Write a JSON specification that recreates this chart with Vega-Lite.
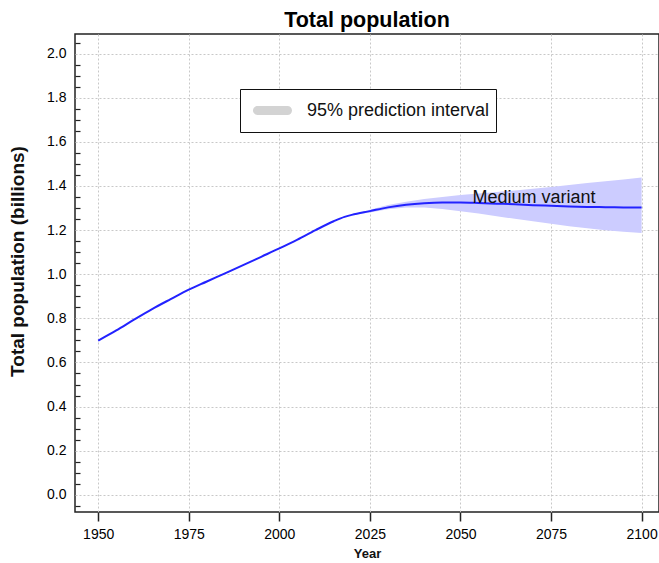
{
  "$schema": "https://vega.github.io/schema/vega-lite/v6.json",
  "width": 584,
  "height": 478,
  "autosize": "none",
  "padding": {"left": 75, "top": 34, "right": 0, "bottom": 51},
  "background": "white",
  "title": {"text": "Total population", "fontSize": 21.5, "font": "Liberation Sans", "fontWeight": "bold", "color": "#000", "anchor": "middle", "offset": 3},
  "config": {"view": {"stroke": "#222", "strokeWidth": 1.5}, "font": "Liberation Sans"},
  "datasets": {
    "medium": [
      {"year": 1950, "pop": 0.699}, {"year": 1955, "pop": 0.745}, {"year": 1960, "pop": 0.795},
      {"year": 1965, "pop": 0.843}, {"year": 1970, "pop": 0.887}, {"year": 1975, "pop": 0.930},
      {"year": 1980, "pop": 0.967}, {"year": 1985, "pop": 1.004}, {"year": 1990, "pop": 1.041},
      {"year": 1995, "pop": 1.079}, {"year": 2000, "pop": 1.117}, {"year": 2005, "pop": 1.157},
      {"year": 2010, "pop": 1.200}, {"year": 2015, "pop": 1.240}, {"year": 2018, "pop": 1.260},
      {"year": 2020, "pop": 1.269},
      {"year": 2025, "pop": 1.286}, {"year": 2030, "pop": 1.303}, {"year": 2035, "pop": 1.315},
      {"year": 2040, "pop": 1.322}, {"year": 2045, "pop": 1.325}, {"year": 2050, "pop": 1.325},
      {"year": 2055, "pop": 1.323}, {"year": 2060, "pop": 1.320}, {"year": 2065, "pop": 1.317},
      {"year": 2070, "pop": 1.313}, {"year": 2075, "pop": 1.310}, {"year": 2080, "pop": 1.307},
      {"year": 2085, "pop": 1.305}, {"year": 2090, "pop": 1.304}, {"year": 2095, "pop": 1.303},
      {"year": 2100, "pop": 1.302}
    ],
    "interval": [
      {"year": 2020, "lower": 1.269, "upper": 1.269},
      {"year": 2025, "lower": 1.280, "upper": 1.292},
      {"year": 2030, "lower": 1.294, "upper": 1.314},
      {"year": 2035, "lower": 1.303, "upper": 1.329},
      {"year": 2040, "lower": 1.303, "upper": 1.341},
      {"year": 2045, "lower": 1.296, "upper": 1.350},
      {"year": 2050, "lower": 1.286, "upper": 1.359},
      {"year": 2055, "lower": 1.275, "upper": 1.366},
      {"year": 2060, "lower": 1.263, "upper": 1.373},
      {"year": 2065, "lower": 1.251, "upper": 1.380},
      {"year": 2070, "lower": 1.240, "upper": 1.387},
      {"year": 2075, "lower": 1.229, "upper": 1.395},
      {"year": 2080, "lower": 1.218, "upper": 1.404},
      {"year": 2085, "lower": 1.208, "upper": 1.413},
      {"year": 2090, "lower": 1.199, "upper": 1.421},
      {"year": 2095, "lower": 1.192, "upper": 1.429},
      {"year": 2100, "lower": 1.187, "upper": 1.438}
    ],
    "labels": [
      {"year": 2053.3, "pop": 1.345, "label": "Medium variant"}
    ]
  },
  "encoding": {
    "x": {
      "field": "year", "type": "quantitative",
      "scale": {"domain": [1943.6, 2104.8], "nice": false, "zero": false},
      "axis": {
        "values": [1950, 1975, 2000, 2025, 2050, 2075, 2100],
        "tickCount": 100,
        "format": "d",
        "grid": true, "gridDash": [2, 2], "gridColor": "#c8c8c8", "gridWidth": 1,
        "domain": false,
        "ticks": true, "tickSize": 9, "tickWidth": 1.5, "tickColor": "#222",
        "labelFontSize": 14, "labelColor": "#000", "labelPadding": 6, "labelFont": "Liberation Sans",
        "title": "Year", "titleFontSize": 13, "titleFontWeight": "bold", "titleColor": "#111", "titlePadding": 6, "titleFont": "Liberation Sans"
      }
    }
  },
  "layer": [
    {
      "data": {"name": "interval"},
      "mark": {"type": "area", "opacity": 1, "fill": "#ccccff"},
      "encoding": {
        "y": {
          "field": "lower", "type": "quantitative",
          "scale": {"domain": [-0.078, 2.089], "nice": false, "zero": false},
          "axis": {
            "values": [-0.05, 0, 0.05, 0.1, 0.15, 0.2, 0.25, 0.3, 0.35, 0.4, 0.45, 0.5, 0.55, 0.6, 0.65, 0.7, 0.75, 0.8, 0.85, 0.9, 0.95, 1.0, 1.05, 1.1, 1.15, 1.2, 1.25, 1.3, 1.35, 1.4, 1.45, 1.5, 1.55, 1.6, 1.65, 1.7, 1.75, 1.8, 1.85, 1.9, 1.95, 2.0, 2.05],
            "tickCount": 100,
            "labelOverlap": false,
            "labelExpr": "abs(datum.value*5 - round(datum.value*5)) < 0.001 ? format(datum.value, '.1f') : ''",
            "grid": true, "gridDash": [2, 2], "gridColor": "#c8c8c8", "gridWidth": 1,
            "gridOpacity": {"condition": {"test": "abs(datum.value*5 - round(datum.value*5)) < 0.001", "value": 1}, "value": 0},
            "domain": false,
            "ticks": true, "tickSize": -5, "tickWidth": 1.2, "tickColor": "#222",
            "tickOpacity": {"condition": {"test": "abs(datum.value*5 - round(datum.value*5)) < 0.001", "value": 0}, "value": 1},
            "labelFontSize": 14, "labelColor": "#000", "labelPadding": 14, "labelFont": "Liberation Sans",
            "title": "Total population (billions)", "titleFontSize": 19, "titleFontWeight": "bold", "titleColor": "#111", "titleFont": "Liberation Sans",
            "titleX": -48, "titleY": 227, "titleAlign": "center", "titleAngle": -90, "titleBaseline": "bottom"
          }
        },
        "y2": {"field": "upper"}
      }
    },
    {
      "data": {"name": "medium"},
      "mark": {"type": "line", "color": "#2222ff", "strokeWidth": 2, "interpolate": "monotone"},
      "encoding": {"y": {"field": "pop", "type": "quantitative"}}
    },
    {
      "data": {"name": "labels"},
      "mark": {"type": "text", "align": "left", "baseline": "middle", "fontSize": 18, "font": "Liberation Sans", "color": "#111"},
      "encoding": {"y": {"field": "pop", "type": "quantitative"}, "text": {"field": "label"}}
    },
    {
      "data": {"name": "labels"},
      "mark": {"type": "point", "filled": true, "size": 0, "strokeWidth": 0},
      "encoding": {
        "y": {"field": "pop", "type": "quantitative"},
        "fill": {
          "datum": "95% prediction interval", "type": "nominal",
          "scale": {"range": ["#d3d3d3"]},
          "legend": {
            "title": null, "orient": "none", "legendX": 165, "legendY": 55,
            "strokeColor": "#111", "fillColor": "white", "padding": 6,
            "labelFontSize": 18, "labelFont": "Liberation Sans", "labelColor": "#111", "labelLimit": 400,
            "symbolType": "M-0.77,-0.23 L0.77,-0.23 A0.23,0.23 0 0 1 0.77,0.23 L-0.77,0.23 A0.23,0.23 0 0 1 -0.77,-0.23 Z",
            "symbolSize": 1521, "symbolStrokeWidth": 0, "symbolOpacity": 1,
            "symbolOffset": 7, "labelOffset": 15, "clipHeight": 31
          }
        }
      }
    }
  ]
}
